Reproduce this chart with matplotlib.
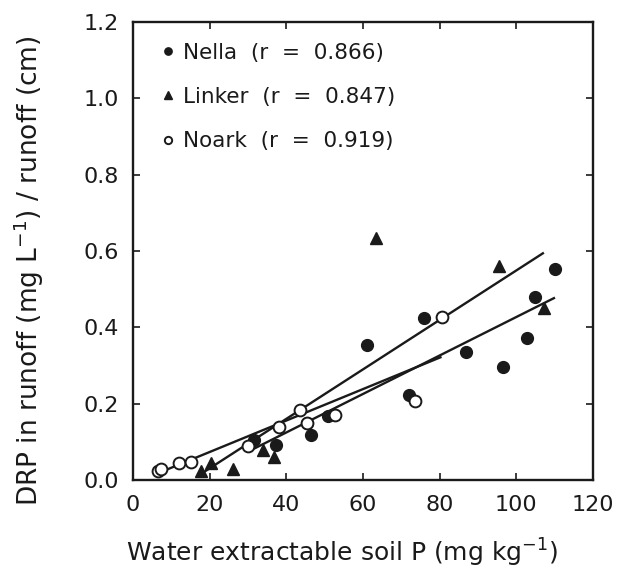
import matplotlib
matplotlib.use("Agg")
import matplotlib.pyplot as plt
import numpy as np

plt.rcParams['font.family'] = ['DejaVu Sans']

# ---- data ----
nella_x = [31.5, 37.4, 45.5, 46.5, 51.0, 61.0, 72.0, 76.0, 86.8, 96.5, 102.9, 104.8, 110.1]
nella_y = [0.105, 0.093, 0.150, 0.118, 0.167, 0.354, 0.222, 0.424, 0.335, 0.297, 0.372, 0.480, 0.553]

linker_x = [17.8, 20.4, 26.1, 33.9, 36.9, 63.5, 95.5, 107.2]
linker_y = [0.023, 0.045, 0.029, 0.078, 0.059, 0.633, 0.562, 0.450]

noark_x = [6.5, 7.2, 12.1, 15.2, 30.0, 38.1, 43.5, 45.3, 52.8, 73.5, 80.5]
noark_y = [0.023, 0.030, 0.044, 0.046, 0.090, 0.139, 0.183, 0.149, 0.171, 0.206, 0.426]

# regression lines (slope, intercept)
nella_fit = (0.00504, -0.077)
linker_fit = (0.00648, -0.099)
noark_fit = (0.00412, -0.009)

labels = ["Nella  (r  =  0.866)", "Linker  (r  =  0.847)", "Noark  (r  =  0.919)"]
x_ticks = [0, 20, 40, 60, 80, 100, 120]
y_ticks = [0.0, 0.2, 0.4, 0.6, 0.8, 1.0, 1.2]

ink = '#1a1a1a'

fig = plt.figure(figsize=(6.17, 5.73), dpi=100)
ax = fig.add_axes([0.2156, 0.1623, 0.961 - 0.2156, 0.9616 - 0.1623])

# regression lines
for xs, fit in [(nella_x, nella_fit), (linker_x, linker_fit), (noark_x, noark_fit)]:
    xr = np.array([min(xs), max(xs)])
    ax.plot(xr, fit[0] * xr + fit[1], color=ink, lw=1.7, zorder=2,
            solid_capstyle='butt')

ax.plot(nella_x, nella_y, 'o', ms=8.5, color=ink, mec=ink, ls='none', zorder=3, label=labels[0])
ax.plot(linker_x, linker_y, '^', ms=8.5, color=ink, mec=ink, ls='none', zorder=3, label=labels[1])
ax.plot(noark_x, noark_y, 'o', ms=8.5, mfc='white', mec=ink, mew=1.4, ls='none', zorder=3, label=labels[2])

ax.set_xlim(0, 120)
ax.set_ylim(0, 1.2)
ax.set_xticks(x_ticks)
ax.set_yticks(y_ticks)
ax.set_yticklabels([f"{v:.1f}" for v in y_ticks])
ax.tick_params(direction='in', length=5, width=1.2, top=True, right=True,
               labelsize=16, colors=ink)
ax.tick_params(axis='x', pad=11)
ax.tick_params(axis='y', pad=10)
for s in ax.spines.values():
    s.set_linewidth(1.7)
    s.set_color(ink)

ax.set_xlabel("Water extractable soil P (mg kg$^{-1}$)", fontsize=18, color=ink)
ax.xaxis.set_label_coords(0.455, -0.125)
ax.set_ylabel("DRP in runoff (mg L$^{-1}$) / runoff (cm)", fontsize=19, color=ink)
ax.yaxis.set_label_coords(-0.19, 0.458)

leg = ax.legend(loc='upper left', frameon=False, fontsize=15.5, handlelength=0.6,
                handletextpad=0.4, markerscale=0.62, labelspacing=1.13,
                borderaxespad=0.0, bbox_to_anchor=(0.043, 0.9736))
for t in leg.get_texts():
    t.set_color(ink)

fig.savefig("out.png", dpi=100, facecolor='white')
